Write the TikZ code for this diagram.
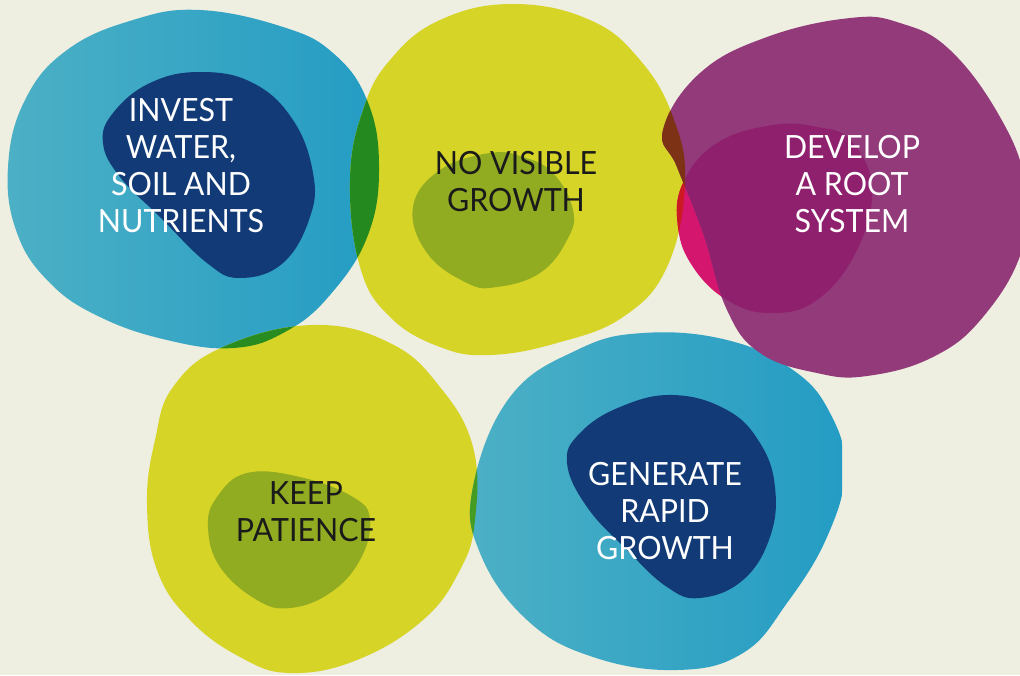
\documentclass[tikz,border=0pt]{standalone}
\usepackage{fontspec}
\setmainfont{Lato}[FakeStretch=0.95]
\definecolor{bgc}{RGB}{238,238,225}
\definecolor{bluel}{RGB}{76,176,197}
\definecolor{bluer}{RGB}{36,156,196}
\definecolor{navy}{RGB}{18,58,118}
\definecolor{yel}{RGB}{214,212,38}
\definecolor{olive}{RGB}{146,172,34}
\definecolor{purp}{RGB}{146,58,122}
\definecolor{pinkc}{RGB}{212,22,110}
\definecolor{purpin}{RGB}{143,32,110}
\definecolor{gA}{RGB}{36,138,32}
\definecolor{gB}{RGB}{40,140,32}
\definecolor{gC}{RGB}{70,155,35}
\definecolor{brownc}{RGB}{125,50,22}
\definecolor{redc}{RGB}{205,25,35}
\definecolor{txtdark}{RGB}{26,26,26}
\def\blobA{plot[smooth cycle, tension=0.7] coordinates {(200,10) (283,27) (333,53) (367,100) (379,165) (368,235) (330,295) (285,332) (233,348) (167,340) (100,317) (50,283) (17,233) (8,167) (25,100) (67,50) (133,20)}}
\def\blobB{plot[smooth cycle, tension=0.7] coordinates {(513,4) (590,20) (640,60) (673,117) (685,183) (667,267) (623,317) (557,343) (490,355) (440,347) (390,317) (360,267) (350,180) (363,110) (390,60) (440,20)}}
\def\blobC{plot[smooth cycle, tension=0.7] coordinates {(850,18) (900,23) (950,50) (1000,117) (1025,183) (1022,250) (983,317) (933,357) (867,376) (817,373) (760,353) (727,310) (703,233) (677,167) (663,130) (700,73) (767,37)}}
\def\blobP{plot[smooth cycle, tension=0.7] coordinates {(773,125) (817,127) (850,140) (872,187) (857,250) (817,300) (770,313) (727,300) (693,267) (678,227) (683,183) (717,143)}}
\def\blobD{plot[smooth cycle, tension=0.7] coordinates {(313,325) (390,343) (440,387) (473,447) (475,520) (460,570) (423,620) (357,660) (290,673) (240,657) (190,620) (157,570) (147,503) (155,440) (173,387) (223,347)}}
\def\blobE{plot[smooth cycle, tension=0.7] coordinates {(643,333) (727,340) (793,370) (830,413) (845,470) (827,537) (787,603) (743,653) (677,670) (593,657) (527,620) (480,553) (473,487) (510,397) (577,350)}}
\def\innerA{plot[smooth cycle, tension=0.7] coordinates {(200,72) (253,83) (293,120) (313,173) (310,217) (283,263) (240,278) (207,263) (160,217) (120,177) (103,143) (113,113) (150,83)}}
\def\innerB{plot[smooth cycle, tension=0.7] coordinates {(490,153) (523,157) (553,173) (573,210) (567,240) (540,273) (497,287) (467,283) (427,253) (413,207) (440,170)}}
\def\innerD{plot[smooth cycle, tension=0.7] coordinates {(247,473) (300,477) (353,497) (370,520) (360,560) (330,593) (290,608) (257,600) (220,567) (208,527) (217,497)}}
\def\innerE{plot[smooth cycle, tension=0.7] coordinates {(673,395) (727,410) (760,443) (775,487) (770,537) (743,580) (700,598) (667,587) (627,550) (587,507) (567,463) (580,433) (620,407)}}
\tikzset{
  lbl/.style={inner sep=0pt, align=center, font=\fontsize{32}{37}\selectfont},
  lightlbl/.style={lbl, text=white},
  darklbl/.style={lbl, text=txtdark},
}
\begin{document}
\begin{tikzpicture}[x=1pt, y=-1pt]
\useasboundingbox (0,0) rectangle (1020,675);
\clip (0,0) rectangle (1020,675);
\fill[bgc] (0,0) rectangle (1020,675);
% main blobs
\shade[left color=bluel, right color=bluer] \blobA;
\fill[yel] \blobB;
\fill[yel] \blobD;
\begin{scope}
  \clip (0,0) rectangle (842,675);
  \shade[left color=bluel, right color=bluer] \blobE;
\end{scope}
\fill[pinkc] \blobP;
\fill[purp] \blobC;
\begin{scope}
  \clip \blobP;
  \fill[purpin] \blobC;
\end{scope}
% overlaps
\begin{scope}
  \clip \blobB;
  \fill[gA] \blobA;
\end{scope}
\begin{scope}
  \clip \blobD;
  \fill[gB] \blobA;
\end{scope}
\begin{scope}
  \clip \blobD;
  \fill[gC] \blobE;
\end{scope}
\begin{scope}
  \clip \blobB;
  \fill[redc] \blobP;
\end{scope}
\begin{scope}
  \clip \blobB;
  \fill[brownc] \blobC;
\end{scope}
% inner blobs
\fill[navy] \innerA;
\fill[olive] \innerB;
\fill[olive] \innerD;
\fill[navy] \innerE;
% labels
\node[lightlbl] (invest) at (181,165.5) {INVEST\\WATER,\\SOIL AND\\NUTRIENTS};
\node[darklbl] (novis) at (516,182) {NO VISIBLE\\GROWTH};
\node[lightlbl] (develop) at (852,184.5) {DEVELOP\\A ROOT\\SYSTEM};
\node[darklbl] (keep) at (306,512) {KEEP\\PATIENCE};
\node[lightlbl] (generate) at (665,511.5) {GENERATE\\RAPID\\GROWTH};
\end{tikzpicture}
\end{document}
